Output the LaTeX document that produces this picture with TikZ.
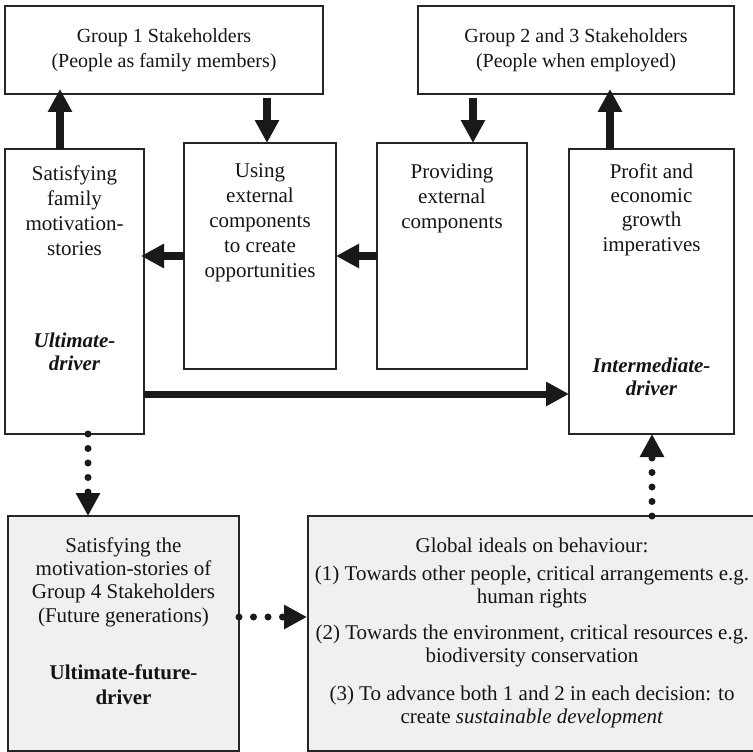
\documentclass[tikz,border=0pt]{standalone}
\usepackage{fontspec}
\setmainfont{Liberation Serif}
\usetikzlibrary{arrows.meta}
\begin{document}
\begin{tikzpicture}[x=1pt,y=-1pt,
  box/.style={draw=black!85, line width=1.6pt, rectangle, anchor=north west, inner sep=0pt, outer sep=0pt},
  graybox/.style={box, fill=black!6},
  txt/.style={align=center, text=black!92, font=\fontsize{21}{25}\selectfont, inner sep=0pt},
  toptxt/.style={txt, font=\fontsize{20}{25}\selectfont},
  drv/.style={txt, font=\fontsize{21}{23}\selectfont\bfseries\itshape},
  fdrv/.style={txt, font=\fontsize{21}{25}\selectfont\bfseries},
  gtxt/.style={txt, font=\fontsize{21}{23}\selectfont},
  arr/.style={line width=8pt, draw=black!90, -{Triangle[length=23pt,width=23pt]}},
  dotarr/.style={line width=7pt, draw=black!90, line cap=round, dash pattern=on 0pt off 14.5pt, -{Triangle[length=23pt,width=23pt]}}
]
\useasboundingbox (0,0) rectangle (753,752);

% boxes
\node[box, minimum width=318pt, minimum height=88pt] (g1) at (5,6) {};
\node[box, minimum width=316pt, minimum height=88pt] (g23) at (418,6) {};
\node[box, minimum width=139pt, minimum height=285pt] (fam) at (5,149) {};
\node[box, minimum width=152pt, minimum height=226pt] (use) at (184,143) {};
\node[box, minimum width=150pt, minimum height=226pt] (prov) at (377,143) {};
\node[box, minimum width=165pt, minimum height=285pt] (prof) at (569,149) {};
\node[graybox, minimum width=231pt, minimum height=235pt] (fut) at (8,516) {};
\node[graybox, minimum width=452pt, minimum height=235pt] (glob) at (308,516) {};

% texts
\node[toptxt] (g1t) at (164,50) {Group 1 Stakeholders\\(People as family members)};
\node[toptxt] (g23t) at (576,50) {Group 2 and 3 Stakeholders\\(People when employed)};
\node[txt] (famt) at (74.5,210.5) {Satisfying\\family\\motivation-\\stories};
\node[drv] (famd) at (74.5,351.5) {Ultimate-\\driver};
\node[txt] (uset) at (260,223) {Using\\external\\components\\to create\\opportunities};
\node[txt] (provt) at (452,198) {Providing\\external\\components};
\node[txt, font=\fontsize{21}{24.3}\selectfont] (proft) at (651.5,209.5) {Profit and\\economic\\growth\\imperatives};
\node[drv] (profd) at (651.5,376.5) {Intermediate-\\driver};
\node[txt, font=\fontsize{21}{23.3}\selectfont] (futt) at (123.5,582) {Satisfying the\\motivation-stories of\\Group 4 Stakeholders\\(Future generations)};
\node[fdrv] (futd) at (123.5,684.5) {Ultimate-future-\\driver};
\node[gtxt] (gt0) at (532,545) {Global ideals on behaviour:};
\node[gtxt] (gt1) at (532,587) {(1) Towards other people, critical arrangements e.g.\\human rights};
\node[gtxt] (gt2) at (532,645.5) {(2) Towards the environment, critical resources e.g.\\biodiversity conservation};
\node[gtxt] (gt3) at (532,707) {(3) To advance both 1 and 2 in each decision: to\\create \textit{sustainable development}};

% solid arrows
\draw[arr, shorten >=-5pt] ([xshift=55pt]fam.north west) -- ([xshift=55pt]fam.north west |- g1.south);
\draw[arr, shorten <=4pt] ([xshift=-56pt]g1.south east) -- ([xshift=-56pt]g1.south east |- use.north);
\draw[arr, shorten >=-3pt] (use.west) -- (use.west -| fam.east);
\draw[arr] (prov.west) -- (prov.west -| use.east);
\draw[arr, shorten <=4pt] ([xshift=55pt]g23.south west) -- ([xshift=55pt]g23.south west |- prov.north);
\draw[arr, shorten >=-5pt] ([xshift=41pt]prof.north west) -- ([xshift=41pt]prof.north west |- g23.south);
\draw[arr, line width=7pt] ([yshift=40pt]fam.south east) -- ([yshift=40pt]fam.south east -| prof.west);

% dotted arrows
\draw[dotarr] ([xshift=83pt]fam.south west) -- ([xshift=83pt]fam.south west |- fut.north);
\draw[dotarr, shorten >=1pt] ([yshift=-101pt]fut.north east) -- ([yshift=-101pt]fut.north east -| glob.west);
\draw[dotarr] ([xshift=344pt]glob.north west) -- ([xshift=344pt]glob.north west |- prof.south);
\end{tikzpicture}
\end{document}
